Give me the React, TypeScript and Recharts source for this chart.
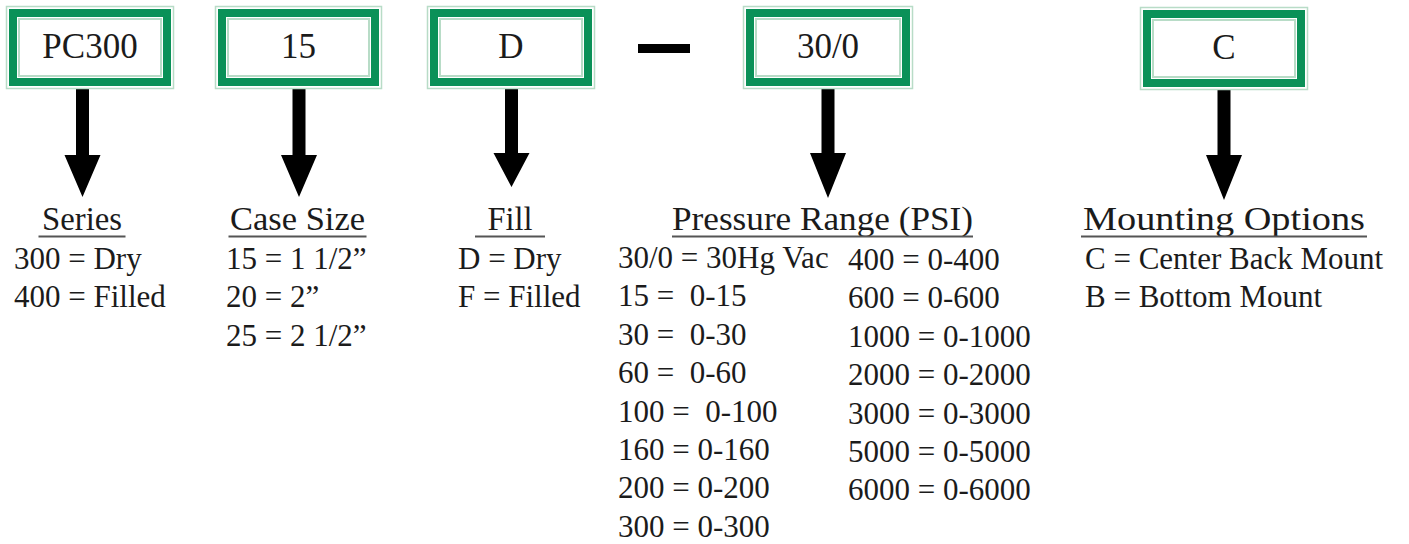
import { ComposedChart, Customized } from 'recharts';

// part-number segments, left to right
const CODES = ['PC300', '15', 'D', '30/0', 'C'];

const HEADINGS = ['Series', 'Case Size', 'Fill', 'Pressure Range (PSI)', 'Mounting Options'];

const SERIES_OPTIONS = ['300 = Dry', '400 = Filled'];
const CASE_SIZE_OPTIONS = ['15 = 1 1/2\u201d', '20 = 2\u201d', '25 = 2 1/2\u201d'];
const FILL_OPTIONS = ['D = Dry', 'F = Filled'];
const PRESSURE_LOW = [
  '30/0 = 30Hg Vac',
  '15 =  0-15',
  '30 =  0-30',
  '60 =  0-60',
  '100 =  0-100',
  '160 = 0-160',
  '200 = 0-200',
  '300 = 0-300',
];
const PRESSURE_HIGH = [
  '400 = 0-400',
  '600 = 0-600',
  '1000 = 0-1000',
  '2000 = 0-2000',
  '3000 = 0-3000',
  '5000 = 0-5000',
  '6000 = 0-6000',
];
const MOUNTING_OPTIONS = ['C = Center Back Mount', 'B = Bottom Mount'];

const WIDTH = 1409;
const HEIGHT = 544;

const GREEN = '#0a9158';
const PALE = '#b8dcc7';
const INK = '#1b1b1b';
const FONT = '"Liberation Serif", "Times New Roman", serif';

// layout of each column (box, arrow, heading)
const COLUMNS = [
  { boxX: 6, boxY: 6, boxW: 168, arrowX: 82.5, headTop: 155, tip: 197, headingX: 82, headingW: 80, lineW: 87 },
  { boxX: 215, boxY: 6, boxW: 167, arrowX: 299, headTop: 155, tip: 197, headingX: 297.5, headingW: 135, lineW: 138 },
  { boxX: 427, boxY: 6, boxW: 168, arrowX: 511.5, headTop: 153, tip: 187, headingX: 510, headingW: 45, lineW: 70 },
  { boxX: 743, boxY: 6, boxW: 170, arrowX: 828, headTop: 153, tip: 198, headingX: 822.5, headingW: 301, lineW: 301 },
  { boxX: 1140, boxY: 7, boxW: 168, arrowX: 1224, headTop: 155, tip: 200, headingX: 1224, headingW: 282, lineW: 286 },
];

const OPTION_BLOCKS = [
  { items: SERIES_OPTIONS, x: 14, y: 269 },
  { items: CASE_SIZE_OPTIONS, x: 226, y: 269 },
  { items: FILL_OPTIONS, x: 458, y: 269 },
  { items: PRESSURE_LOW, x: 618, y: 268 },
  { items: PRESSURE_HIGH, x: 848, y: 270 },
  { items: MOUNTING_OPTIONS, x: 1085, y: 269 },
];

const BOX_H = 83;
const ROW_GAP = 38.4;

function CodeBox({ code, col }: { code: string; col: (typeof COLUMNS)[number] }) {
  const { boxX: x, boxY: y, boxW: w } = col;
  return (
    <g>
      <rect x={x + 0.5} y={y + 0.5} width={w - 1} height={BOX_H - 1} fill="#fff" stroke={PALE} strokeWidth={1.5} />
      <rect x={x + 7} y={y + 7} width={w - 14} height={BOX_H - 14} fill="none" stroke={GREEN} strokeWidth={8} />
      <rect x={x + 13} y={y + 13} width={w - 26} height={BOX_H - 26} fill="none" stroke={PALE} strokeWidth={2} />
      <text x={x + w / 2} y={y + 52} textAnchor="middle" fontFamily={FONT} fontSize={35} fill={INK}>
        {code}
      </text>
    </g>
  );
}

function Arrow({ col }: { col: (typeof COLUMNS)[number] }) {
  const cx = col.arrowX;
  const top = col.boxY + 80;
  const sw = 6.5;
  const hw = 18;
  const pts = [
    [cx - sw, top],
    [cx + sw, top],
    [cx + sw, col.headTop],
    [cx + hw, col.headTop],
    [cx, col.tip],
    [cx - hw, col.headTop],
    [cx - sw, col.headTop],
  ]
    .map((p) => p.join(','))
    .join(' ');
  return <polygon points={pts} fill="#000" />;
}

function Diagram() {
  return (
    <g>
      {CODES.map((code, i) => (
        <Arrow key={`a-${code}`} col={COLUMNS[i]} />
      ))}
      {CODES.map((code, i) => (
        <CodeBox key={code} code={code} col={COLUMNS[i]} />
      ))}

      {/* separator dash */}
      <rect x={638} y={44} width={52} height={9} fill="#000" />

      {HEADINGS.map((h, i) => {
        const col = COLUMNS[i];
        return (
          <g key={h}>
            <text
              x={col.headingX}
              y={230}
              textAnchor="middle"
              fontFamily={FONT}
              fontSize={34}
              fill={INK}
              textLength={col.headingW}
              lengthAdjust="spacingAndGlyphs"
            >
              {h}
            </text>
            <line
              x1={col.headingX - col.lineW / 2}
              x2={col.headingX + col.lineW / 2}
              y1={236.5}
              y2={236.5}
              stroke="#555"
              strokeWidth={2}
            />
          </g>
        );
      })}

      {OPTION_BLOCKS.map((block, b) =>
        block.items.map((item, r) => (
          <text
            key={`${b}-${r}`}
            x={block.x}
            y={block.y + r * ROW_GAP}
            fontFamily={FONT}
            fontSize={31}
            fill={INK}
            style={{ whiteSpace: 'pre' }}
          >
            {item}
          </text>
        )),
      )}
    </g>
  );
}

export default function App() {
  const data = CODES.map((code) => ({ code }));
  return (
    <div style={{ position: 'absolute', left: 0, top: 0, width: WIDTH, height: HEIGHT, background: '#fff' }}>
      <ComposedChart width={WIDTH} height={HEIGHT} data={data} margin={{ top: 0, right: 0, bottom: 0, left: 0 }}>
        <Customized component={<Diagram />} />
      </ComposedChart>
    </div>
  );
}
